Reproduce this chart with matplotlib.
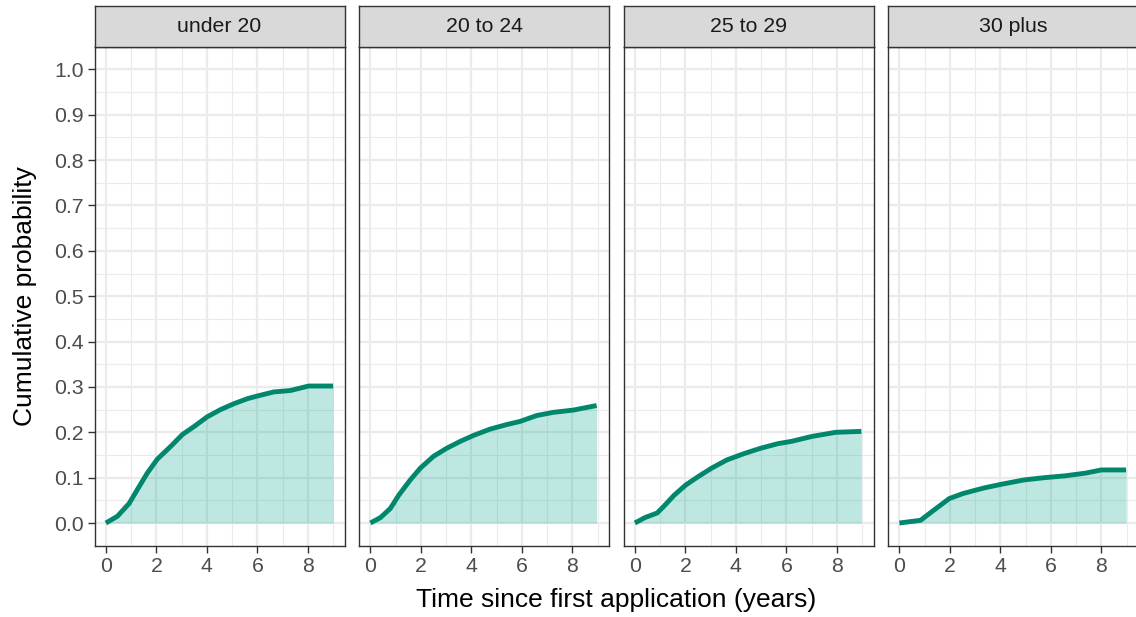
import matplotlib.pyplot as plt
import numpy as np
from matplotlib import rcParams

rcParams['font.family'] = ['Liberation Sans', 'DejaVu Sans']

groups = ['under 20', '20 to 24', '25 to 29', '30 plus']

t_u20 = [0, 0.46, 0.92, 1.25, 1.64, 2.04, 2.57, 3.03, 3.5, 4.01, 4.54, 5.07, 5.6, 6.0, 6.65, 7.3, 8.03, 9.0]
p_u20 = [0, 0.015, 0.043, 0.074, 0.11, 0.141, 0.169, 0.195, 0.213, 0.234, 0.25, 0.263, 0.274, 0.28, 0.289, 0.292, 0.302, 0.302]

t_2024 = [0, 0.4, 0.79, 1.12, 1.58, 1.98, 2.5, 3.03, 3.56, 4.08, 4.74, 5.4, 5.93, 6.59, 7.25, 8.04, 8.96]
p_2024 = [0, 0.012, 0.032, 0.061, 0.095, 0.121, 0.147, 0.165, 0.18, 0.193, 0.207, 0.217, 0.224, 0.237, 0.244, 0.249, 0.259]

t_2529 = [0, 0.4, 0.88, 1.15, 1.55, 2.02, 2.5, 3.04, 3.64, 4.32, 4.99, 5.67, 6.2, 7.02, 7.96, 8.97]
p_2529 = [0, 0.012, 0.022, 0.037, 0.061, 0.084, 0.102, 0.121, 0.139, 0.153, 0.165, 0.175, 0.18, 0.191, 0.2, 0.202]

t_30p = [0, 0.84, 1.31, 1.98, 2.52, 3.33, 4.0, 4.94, 5.75, 6.56, 7.37, 8.0, 8.98]
p_30p = [0, 0.006, 0.026, 0.054, 0.065, 0.077, 0.085, 0.095, 0.1, 0.104, 0.11, 0.117, 0.117]

times = [t_u20, t_2024, t_2529, t_30p]
probs = [p_u20, p_2024, p_2529, p_30p]

W, H = 1136, 617
fig = plt.figure(figsize=(W / 100, H / 100), dpi=100)

line_col = '#00876C'
fill_col = '#00A38A'
dark = '#333333'
grid_col = '#EBEBEB'

lefts = [94.5, 359, 623.5, 888]
pw = 250
bottom_px = 545.7
top_px = 46.7
strip_top = 5.7

for i, g in enumerate(groups):
    ax = fig.add_axes([lefts[i] / W, 1 - bottom_px / H, pw / W, (bottom_px - top_px) / H])
    ax.set_xlim(-0.45, 9.45)
    ax.set_ylim(-0.05, 1.05)
    ax.set_xticks(np.arange(0, 9, 2))
    ax.set_xticks(np.arange(1, 10, 2), minor=True)
    ax.set_yticks(np.arange(0, 1.01, 0.1))
    ax.set_yticks(np.arange(0.05, 1.0, 0.1), minor=True)
    ax.grid(which='major', color=grid_col, lw=1.6)
    ax.grid(which='minor', color=grid_col, lw=0.8)
    ax.set_axisbelow(True)
    for s in ax.spines.values():
        s.set_color(dark)
        s.set_linewidth(1.0)
    ax.tick_params(which='major', length=5, width=1.0, color=dark,
                   labelsize=15.3, labelcolor='#4D4D4D', pad=3)
    ax.tick_params(which='minor', length=0)
    ax.set_yticklabels(['%.1f' % v for v in np.arange(0, 1.01, 0.1)])
    if i > 0:
        ax.tick_params(axis='y', which='major', length=0, labelleft=False)

    ax.fill_between(times[i], probs[i], 0, color=fill_col, alpha=0.25, lw=0)
    ax.plot(times[i], probs[i], color=line_col, lw=3.5, solid_capstyle='butt')

    # strip
    sax = fig.add_axes([lefts[i] / W, 1 - top_px / H, pw / W, (top_px - strip_top) / H])
    sax.set_facecolor('#D9D9D9')
    sax.set_xticks([])
    sax.set_yticks([])
    for s in sax.spines.values():
        s.set_color(dark)
        s.set_linewidth(1.0)
    sax.text(0.5, 0.5, g, ha='center', va='center', fontsize=15.3,
             color='#1A1A1A', transform=sax.transAxes)

fig.text(616 / W, 1 - 600 / H, 'Time since first application (years)',
         ha='center', va='center', fontsize=19, color='black')
fig.text(25 / W, 1 - 296 / H, 'Cumulative probability', rotation=90,
         ha='center', va='center', fontsize=19, color='black')

fig.savefig('out.png', dpi=100)
